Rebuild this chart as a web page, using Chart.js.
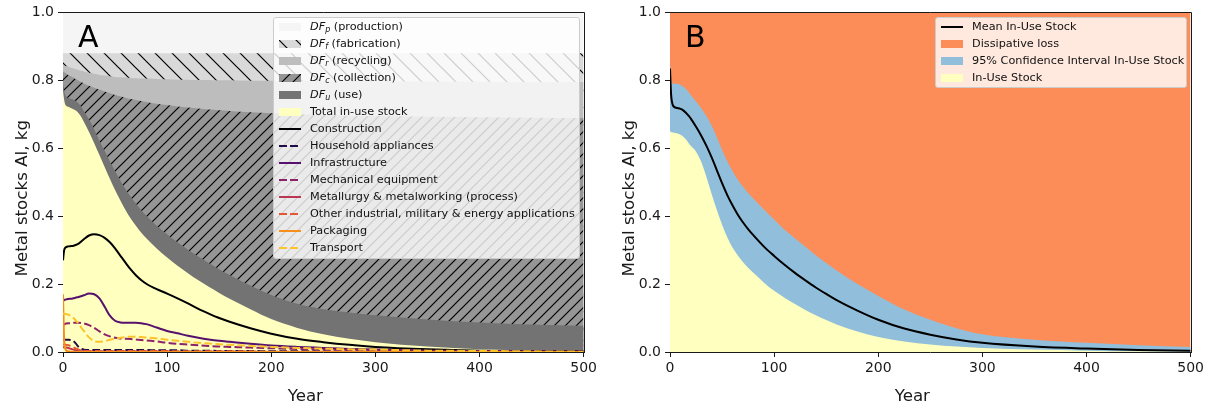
<!DOCTYPE html>
<html>
<head>
<meta charset="utf-8">
<title>Metal stocks Al</title>
<script src="https://cdn.jsdelivr.net/npm/chart.js@4.4.1/dist/chart.umd.min.js"></script>
<style>
html,body{margin:0;padding:0;background:#fff;}
#wrap{position:relative;width:1215px;height:412px;overflow:hidden;font-family:'DejaVu Sans',sans-serif;}
canvas{position:absolute;top:0;}
#cA{left:0;}
#cB{left:607px;}
.legend{position:absolute;background:rgba(255,255,255,0.8);border:1px solid #cccccc;border-radius:3px;box-sizing:border-box;}
.row{position:absolute;left:0;right:0;height:17px;}
.sw{position:absolute;left:5px;width:22px;}
.lab{position:absolute;left:36px;top:0;line-height:17px;font-size:11.25px;color:#111;white-space:nowrap;}
.lab .m{font-style:italic;}
.lab .s{font-style:italic;font-size:8px;position:relative;top:2px;}
</style>
</head>
<body>
<div id="wrap">
  <canvas id="cA" width="600" height="412"></canvas>
  <canvas id="cB" width="600" height="412"></canvas>
  <div id="legA" class="legend" style="left:273px;top:17px;width:307px;height:242px;"></div>
  <div id="legB" class="legend" style="left:935px;top:17px;width:252px;height:71px;"></div>
</div>
<script>
// ---------------- data ----------------
const years = [0,1,2,3,5,8,10,12,15,18,20,25,30,35,40,45,50,55,60,65,70,75,80,90,100,110,120,130,140,150,160,180,200,225,250,275,300,350,400,450,500];

// Panel A: stacked layer tops (kg)
const totalInUse = [0.77,0.745,0.73,0.725,0.722, 0.718,0.715,0.712,0.703,0.69, 0.678,0.648,0.615,0.58,0.545, 0.51,0.477,0.447,0.418,0.393, 0.372,0.352,0.335,0.305,0.278, 0.254,0.232,0.211,0.192,0.174, 0.157,0.126,0.097,0.071,0.052, 0.039,0.029,0.016,0.008,0.005, 0.003];
const useTop = [0.79,0.77,0.758,0.752,0.748, 0.745,0.743,0.74,0.732,0.72, 0.71,0.685,0.655,0.622,0.592, 0.562,0.533,0.505,0.48,0.457, 0.437,0.418,0.401,0.372,0.347, 0.323,0.301,0.281,0.262,0.244, 0.227,0.196,0.168,0.142,0.126, 0.116,0.108,0.096,0.087,0.081, 0.077];
const collectionTop = [0.826,0.824,0.822,0.82,0.816, 0.811,0.808,0.804,0.799,0.794, 0.791,0.784,0.778,0.772,0.767, 0.762,0.757,0.753,0.749,0.745, 0.742,0.739,0.736,0.731,0.727, 0.723,0.72,0.717,0.714,0.712, 0.71,0.706,0.703,0.70,0.698, 0.696,0.695,0.693,0.691,0.69, 0.689];
const recyclingTop = [0.845,0.844,0.843,0.842,0.84, 0.837,0.835,0.833,0.83,0.828, 0.826,0.822,0.819,0.816,0.814, 0.812,0.81,0.809,0.808,0.807, 0.806,0.805,0.805,0.804,0.803, 0.802,0.802,0.801,0.801,0.80, 0.80,0.799,0.799,0.798,0.798, 0.797,0.797,0.796,0.796,0.795, 0.795];
const fabricationTop = 0.88;
const productionTop = 1.0;

// Panel A: sector in-use stocks (kg)
const construction = [0.27,0.298,0.306,0.309,0.311, 0.312,0.313,0.315,0.319,0.327, 0.332,0.343,0.347,0.344,0.336, 0.323,0.305,0.284,0.263,0.243, 0.226,0.212,0.201,0.185,0.172, 0.158,0.143,0.127,0.113,0.1, 0.089,0.07,0.054,0.039,0.029, 0.021,0.015,0.008,0.004,0.003, 0.002];
const householdAppliances = [0.035,0.036,0.036,0.036,0.036, 0.035,0.032,0.026,0.015,0.009, 0.007,0.006,0.006,0.006,0.006, 0.006,0.006,0.006,0.006,0.006, 0.006,0.006,0.006,0.005,0.005, 0.005,0.004,0.004,0.004,0.003, 0.003,0.003,0.002,0.002,0.002, 0.001,0.001,0.001,0,0, 0];
const infrastructure = [0.15,0.153,0.154,0.155,0.156, 0.157,0.158,0.16,0.162,0.165, 0.167,0.172,0.17,0.158,0.133, 0.107,0.092,0.087,0.086,0.086, 0.086,0.085,0.082,0.072,0.062, 0.055,0.048,0.042,0.037,0.033, 0.03,0.024,0.019,0.015,0.012, 0.009,0.007,0.004,0.003,0.002, 0.001];
const mechanicalEquipment = [0.078,0.081,0.083,0.084,0.085, 0.085,0.086,0.086,0.086,0.085, 0.084,0.079,0.071,0.061,0.052, 0.046,0.042,0.04,0.039,0.038, 0.037,0.035,0.034,0.031,0.027, 0.024,0.022,0.02,0.018,0.016, 0.015,0.013,0.011,0.009,0.007, 0.006,0.005,0.003,0.002,0.001, 0.001];
const metallurgy = [0.014,0.014,0.013,0.013,0.012, 0.009,0.007,0.005,0.003,0.002, 0.002,0.001,0.001,0.001,0.001, 0.001,0.001,0.001,0.001,0.001, 0.001,0.001,0.001,0.001,0.001, 0,0,0,0,0, 0,0,0,0,0, 0,0,0,0,0, 0];
const otherIndustrial = [0.022,0.022,0.022,0.021,0.02, 0.017,0.014,0.011,0.007,0.005, 0.004,0.003,0.003,0.003,0.003, 0.003,0.003,0.003,0.003,0.003, 0.003,0.003,0.003,0.003,0.003, 0.002,0.002,0.002,0.002,0.002, 0.002,0.002,0.001,0.001,0.001, 0.001,0.001,0,0,0, 0];
const packaging = [0.17,0.04,0.012,0.005,0.002, 0.001,0.001,0,0,0, 0,0,0,0,0, 0,0,0,0,0, 0,0,0,0,0, 0,0,0,0,0, 0,0,0,0,0, 0,0,0,0,0, 0];
const transport = [0.113,0.113,0.112,0.112,0.11, 0.105,0.1,0.094,0.083,0.07, 0.062,0.043,0.032,0.03,0.032, 0.036,0.039,0.042,0.044,0.045, 0.045,0.044,0.043,0.04,0.036, 0.033,0.03,0.027,0.025,0.023, 0.021,0.018,0.015,0.012,0.01, 0.008,0.007,0.004,0.003,0.002, 0.001];

const sectorNames = ['Construction','Household appliances','Infrastructure','Mechanical equipment','Metallurgy & metalworking (process)','Other industrial, military & energy applications','Packaging','Transport'];
const sectorValues = [construction, householdAppliances, infrastructure, mechanicalEquipment, metallurgy, otherIndustrial, packaging, transport];

// Panel B
const meanInUse = [0.835,0.76,0.735,0.725,0.72, 0.718,0.716,0.713,0.705,0.695, 0.687,0.663,0.637,0.607,0.573, 0.535,0.497,0.462,0.432,0.405, 0.382,0.362,0.344,0.311,0.283, 0.257,0.233,0.211,0.19,0.171, 0.153,0.122,0.095,0.069,0.051, 0.037,0.027,0.016,0.01,0.006, 0.004];
const ciUpper = [0.86,0.795,0.792,0.79,0.79, 0.789,0.787,0.783,0.775,0.765, 0.757,0.738,0.718,0.695,0.667, 0.632,0.595,0.562,0.533,0.508, 0.487,0.468,0.452,0.42,0.39, 0.36,0.335,0.31,0.285,0.262, 0.24,0.2,0.165,0.125,0.095, 0.07,0.052,0.036,0.027,0.02, 0.015];
const ciLower = [0.65,0.648,0.647,0.646,0.645, 0.643,0.64,0.636,0.627,0.615, 0.607,0.59,0.56,0.515,0.465, 0.418,0.375,0.338,0.308,0.285, 0.265,0.248,0.233,0.205,0.18, 0.16,0.141,0.124,0.108,0.094, 0.081,0.06,0.044,0.031,0.022, 0.016,0.012,0.007,0.004,0.002, 0.001];
const dissipativeTop = 1.0;

const xTicks = {min:0, max:500, step:100};
const yTicks = {min:0, max:1, step:0.2};

// ---------------- styles ----------------
const FONT = "'DejaVu Sans', sans-serif";
const TXT = '#1a1a1a';
const AX = '#1a1a1a';
const sectorColors = ['#000004','#210c4a','#56106e','#8c2369','#bc3754','#e35832','#f6901b','#fac42a'];
const sectorDashed = [false,true,false,true,false,true,false,true];
const DASH = [7.7,3.3];

function pts(values){ return years.map((x,i)=>({x:x, y:values[i]})); }
function level(v){ return [{x:xTicks.min, y:v},{x:xTicks.max, y:v}]; }

function hatchTile(bg, s, dir){
  const c = document.createElement('canvas'); c.width = s; c.height = s;
  const g = c.getContext('2d');
  g.fillStyle = bg; g.fillRect(0,0,s,s);
  g.strokeStyle = '#000'; g.lineWidth = 1.2;
  g.beginPath();
  for (const k of [-s,0,s]){
    if (dir === '/'){ g.moveTo(-2, s+k+2); g.lineTo(s+2, k-2); }
    else { g.moveTo(-2, k-2); g.lineTo(s+2, s+k+2); }
  }
  g.stroke();
  return c;
}
const ctxA = document.getElementById('cA').getContext('2d');
const fabTile = hatchTile('#d9d9d9', 17, '\\');
const colTile = hatchTile('#969696', 11, '/');
const fabPattern = ctxA.createPattern(fabTile, 'repeat');
const colPattern = ctxA.createPattern(colTile, 'repeat');

// ---------------- plugins ----------------
const decorPlugin = {
  id: 'decor',
  afterDraw(chart, args, o){
    const {ctx, chartArea:a} = chart;
    ctx.save();
    ctx.strokeStyle = AX; ctx.lineWidth = 1;
    ctx.beginPath();
    ctx.moveTo(Math.round(a.left), Math.round(a.top)+0.5);
    ctx.lineTo(Math.round(a.right)+0.5, Math.round(a.top)+0.5);
    ctx.lineTo(Math.round(a.right)+0.5, Math.round(a.bottom)+1);
    ctx.stroke();
    ctx.fillStyle = '#000';
    ctx.font = "30px 'DejaVu Sans'";
    ctx.textAlign = 'left'; ctx.textBaseline = 'alphabetic';
    ctx.fillText(o.panel, a.left + 15, 46.5);
    ctx.fillStyle = TXT;
    ctx.font = "16.7px 'DejaVu Sans'";
    ctx.textAlign = 'center';
    ctx.fillText(o.xTitle, (a.left + a.right)/2 - 18, 401);
    ctx.translate(a.left - 36.5, (a.top + a.bottom)/2 + 16);
    ctx.rotate(-Math.PI/2);
    ctx.fillText(o.yTitle, 0, 0);
    ctx.restore();
  }
};

function options(panel){
  return {
    responsive:false, animation:false, events:[], devicePixelRatio:1,
    layout:{padding:{left:0, top:11, right:15, bottom:0}},
    elements:{point:{radius:0}},
    plugins:{legend:{display:false}, tooltip:{enabled:false},
      decor:{panel:panel, xTitle:'Year', yTitle:'Metal stocks Al, kg'}},
    scales:{
      x:{type:'linear', min:xTicks.min, max:xTicks.max,
        afterFit:(s)=>{ s.height = 60; },
        ticks:{stepSize:xTicks.step, autoSkip:false, maxRotation:0, padding:3, color:TXT, font:{family:FONT, size:14}},
        grid:{display:true, drawOnChartArea:false, drawTicks:true, tickLength:5, tickColor:AX, color:AX},
        border:{display:true, color:AX, width:1},
        title:{display:false}},
      y:{type:'linear', min:yTicks.min, max:yTicks.max,
        afterFit:(s)=>{ s.width = 63; },
        ticks:{stepSize:yTicks.step, padding:4, color:TXT, font:{family:FONT, size:14}, callback:(v)=>Number(v).toFixed(1)},
        grid:{display:true, drawOnChartArea:false, drawTicks:true, tickLength:5, tickColor:AX, color:AX},
        border:{display:true, color:AX, width:1},
        title:{display:false}}
    }
  };
}

const area = {borderWidth:0, borderColor:'rgba(0,0,0,0)', pointRadius:0, fill:'origin', cubicInterpolationMode:'monotone'};

// ---------------- Panel A ----------------
const dsA = [
  Object.assign({}, area, {label:'DFp (production)', data:level(productionTop), backgroundColor:'#f5f5f5', order:20}),
  Object.assign({}, area, {label:'DFf (fabrication)', data:level(fabricationTop), backgroundColor:fabPattern, order:19}),
  Object.assign({}, area, {label:'DFr (recycling)', data:pts(recyclingTop), backgroundColor:'#bdbdbd', order:18}),
  Object.assign({}, area, {label:'DFc (collection)', data:pts(collectionTop), backgroundColor:colPattern, order:17}),
  Object.assign({}, area, {label:'DFu (use)', data:pts(useTop), backgroundColor:'#737373', order:16}),
  Object.assign({}, area, {label:'Total in-use stock', data:pts(totalInUse), backgroundColor:'#ffffbf', order:15})
];
sectorNames.forEach((n,i)=>{
  dsA.push({label:n, data:pts(sectorValues[i]), borderColor:sectorColors[i], borderWidth:2,
    borderDash: sectorDashed[i] ? DASH : [], fill:false, pointRadius:0,
    cubicInterpolationMode:'monotone', order:10-i});
});
new Chart(document.getElementById('cA'), {type:'line', data:{datasets:dsA}, options:options('A'), plugins:[decorPlugin]});

// ---------------- Panel B ----------------
const dsB = [
  Object.assign({}, area, {label:'Dissipative loss', data:level(dissipativeTop), backgroundColor:'#fc8d59', order:4}),
  Object.assign({}, area, {label:'95% Confidence Interval In-Use Stock', data:pts(ciUpper), backgroundColor:'#91bfdb', order:3}),
  Object.assign({}, area, {label:'In-Use Stock', data:pts(ciLower), backgroundColor:'#ffffbf', order:2}),
  {label:'Mean In-Use Stock', data:pts(meanInUse), borderColor:'#000', borderWidth:2, fill:false, pointRadius:0, cubicInterpolationMode:'monotone', order:1}
];
new Chart(document.getElementById('cB'), {type:'line', data:{datasets:dsB}, options:options('B'), plugins:[decorPlugin]});

// ---------------- legends (HTML) ----------------
function addRow(box, i, swatch, labelHTML){
  const r = document.createElement('div'); r.className = 'row'; r.style.top = (17*i) + 'px';
  r.appendChild(swatch);
  const l = document.createElement('div'); l.className = 'lab'; l.innerHTML = labelHTML;
  r.appendChild(l); box.appendChild(r);
}
function patchSw(bg, tile){
  const d = document.createElement('div'); d.className = 'sw';
  d.style.top = '4.5px'; d.style.height = '8px'; d.style.background = bg;
  if (tile) d.style.backgroundImage = 'url(' + tile.toDataURL() + ')';
  return d;
}
function lineSw(color, dashed){
  const d = document.createElement('div'); d.className = 'sw';
  d.style.top = '7.5px'; d.style.height = '2px';
  d.style.background = dashed ? ('repeating-linear-gradient(to right,' + color + ' 0 7.7px, transparent 7.7px 11px)') : color;
  return d;
}
function dfLabel(sub, name){ return '<span class="m">DF</span><span class="s">' + sub + '</span> (' + name + ')'; }

const legA = document.getElementById('legA');
addRow(legA, 0, patchSw('#f5f5f5'), dfLabel('p','production'));
addRow(legA, 1, patchSw('#d9d9d9', fabTile), dfLabel('f','fabrication'));
addRow(legA, 2, patchSw('#bdbdbd'), dfLabel('r','recycling'));
addRow(legA, 3, patchSw('#969696', colTile), dfLabel('c','collection'));
addRow(legA, 4, patchSw('#737373'), dfLabel('u','use'));
addRow(legA, 5, patchSw('#ffffbf'), 'Total in-use stock');
sectorNames.forEach((n,i)=>{
  addRow(legA, 6+i, lineSw(sectorColors[i], sectorDashed[i]), n.replace(/&/g,'&amp;'));
});

const legB = document.getElementById('legB');
addRow(legB, 0, lineSw('#000', false), 'Mean In-Use Stock');
addRow(legB, 1, patchSw('#fc8d59'), 'Dissipative loss');
addRow(legB, 2, patchSw('#91bfdb'), '95% Confidence Interval In-Use Stock');
addRow(legB, 3, patchSw('#ffffbf'), 'In-Use Stock');
</script>
</body>
</html>
